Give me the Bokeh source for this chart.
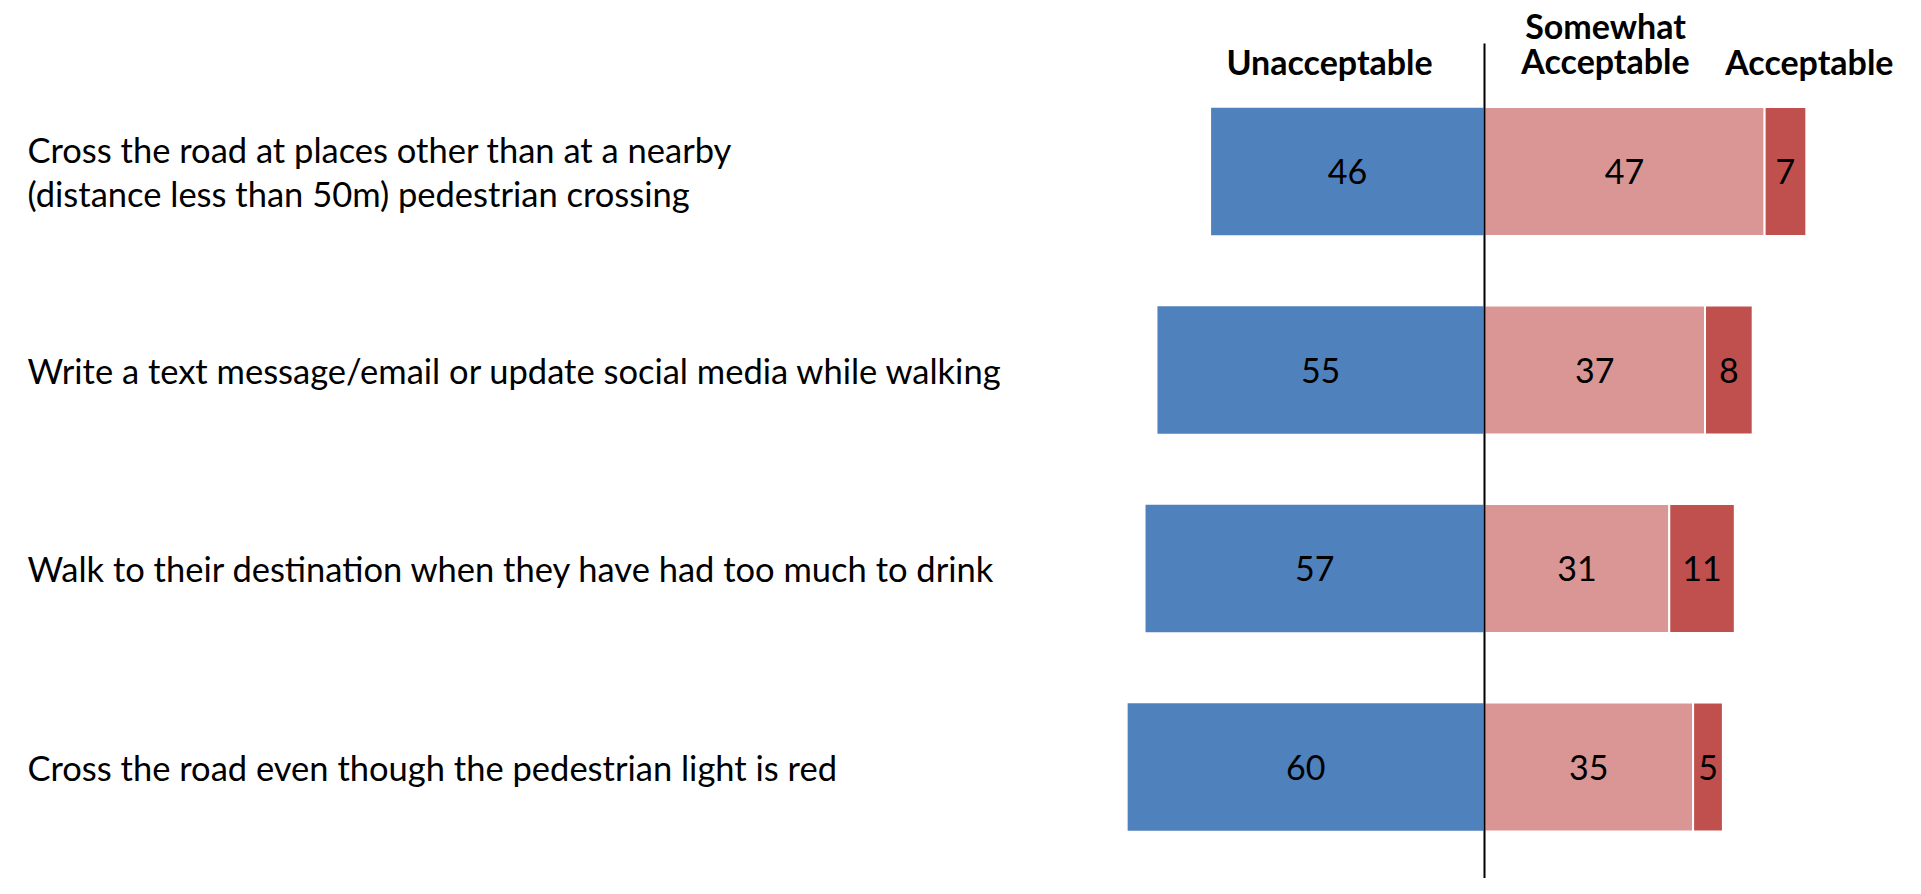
from bokeh.plotting import figure
from bokeh.models import Range1d, ColumnDataSource
from bokeh.core.properties import value
from bokeh.embed import file_html
from bokeh.resources import INLINE

categories = [
    "Cross the road at places other than at a nearby\n(distance less than 50m) pedestrian crossing",
    "Write a text message/email or update social media while walking",
    "Walk to their destination when they have had too much to drink",
    "Cross the road even though the pedestrian light is red",
]
unacceptable = [46, 55, 57, 60]
somewhat_acceptable = [47, 37, 31, 35]
acceptable = [7, 8, 11, 5]
headers = ["Unacceptable", "Somewhat\nAcceptable", "Acceptable"]

FONT = "Lato"
W, H = 1905, 878
PXU = 5.96          # pixels per unit on x
ROWPX = 198.5       # pixels per row
X0PX = 1484         # pixel position of zero line
Y0PX = 171          # pixel position of first row centre

x_start = -X0PX / PXU
x_end = (W - X0PX) / PXU
y_top = -Y0PX / ROWPX
y_bot = (H - Y0PX) / ROWPX

p = figure(width=W, height=H, output_backend="svg", toolbar_location=None,
           x_range=Range1d(x_start, x_end), y_range=Range1d(y_bot, y_top),
           min_border=0, outline_line_color=None, background_fill_color="white",
           border_fill_color="white")
p.axis.visible = False
p.grid.visible = False

n = len(categories)
ys = list(range(n))
src = ColumnDataSource(dict(
    y=ys,
    u_left=[-v for v in unacceptable],
    u_mid=[-v / 2 for v in unacceptable],
    u_lab=[str(v) for v in unacceptable],
    s_right=somewhat_acceptable,
    s_mid=[v / 2 for v in somewhat_acceptable],
    s_lab=[str(v) for v in somewhat_acceptable],
    a_left=somewhat_acceptable,
    a_right=[s + a for s, a in zip(somewhat_acceptable, acceptable)],
    a_mid=[s + a / 2 for s, a in zip(somewhat_acceptable, acceptable)],
    a_lab=[str(v) for v in acceptable],
    cat=categories,
))

BH = 0.65
p.hbar(y="y", left="u_left", right=0, height=BH, source=src,
       fill_color="#4F81BD", line_color="white", line_width=1.5)
p.hbar(y="y", left=0, right="s_right", height=BH, source=src,
       fill_color="#D99694", line_color="white", line_width=2)
p.hbar(y="y", left="a_left", right="a_right", height=BH, source=src,
       fill_color="#C0504D", line_color="white", line_width=2)

# zero line
p.segment(x0=0, y0=y_top + 43 / ROWPX, x1=0, y1=y_bot, line_color="black", line_width=2)

lab_kw = dict(text_font=value(FONT), text_font_size="34px", text_color="black",
              text_align="center", text_baseline="middle")
p.text(x="u_mid", y="y", text="u_lab", source=src, **lab_kw)
p.text(x="s_mid", y="y", text="s_lab", source=src, **lab_kw)
p.text(x="a_mid", y="y", text="a_lab", source=src, **lab_kw)

# category labels
p.text(x=x_start + 27 / PXU, y="y", text="cat", source=src,
       text_font=value(FONT), text_font_size="34.5px", text_color="black",
       text_align="left", text_baseline="middle", text_line_height=1.08)

# header labels
hx = [-26, 20.3, 54.5]
hsrc = ColumnDataSource(dict(x=hx, y=[y_top + 81 / ROWPX] * 3, t=headers))
p.text(x="x", y="y", text="t", source=hsrc, text_font=value(FONT),
       text_font_size="34px", text_font_style="bold", text_color="black",
       text_align="center", text_baseline="bottom", text_line_height=0.86)

open("out.html", "w").write(file_html(p, INLINE))
